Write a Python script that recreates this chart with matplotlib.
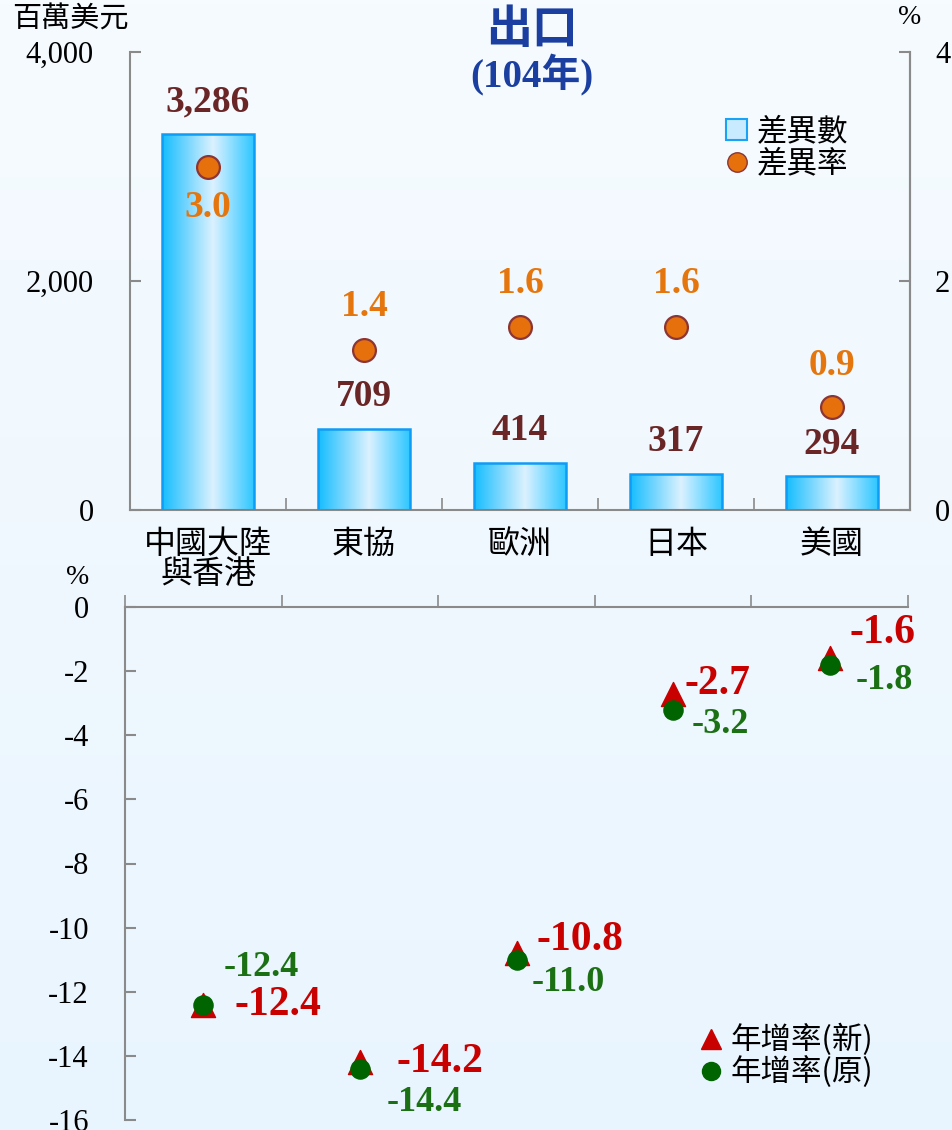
import matplotlib
matplotlib.use("Agg")
import matplotlib.pyplot as plt
import numpy as np
from matplotlib.colors import LinearSegmentedColormap
from matplotlib.lines import Line2D
from matplotlib.patches import Patch

# ---------------- data ----------------
categories = ["中國大陸\n與香港", "東協", "歐洲", "日本", "美國"]
diff_amount = [3286, 709, 414, 317, 294]          # 百萬美元
diff_rate = [3.0, 1.4, 1.6, 1.6, 0.9]             # %
growth_new = [-12.4, -14.2, -10.8, -2.7, -1.6]    # %
growth_orig = [-12.4, -14.4, -11.0, -3.2, -1.8]   # %
left_ticks = [0, 2000, 4000]
left_ticklabels = ["0", "2,000", "4,000"]
right_ticks = [0, 2, 4]
bottom_ticks = [0, -2, -4, -6, -8, -10, -12, -14, -16]

# label offsets (pixels), styling only
rate_dy = [-41, 43, 43, 43, 41]
new_off = [(75, 0), (80, 0), (63, 13), (44, 10), (53, 25)]
orig_off = [(58, 37), (64, -34), (52, -23), (47, -15), (55, -16)]

SERIF = ["Liberation Serif", "DejaVu Serif"]
CJK = ["Noto Sans CJK TC", "DejaVu Sans"]
MIX = ["Liberation Serif", "Noto Sans CJK TC", "DejaVu Sans"]

W, H = 953, 1130
fig = plt.figure(figsize=(W / 100, H / 100), dpi=100)

# background gradient
bg = fig.add_axes([0, 0, 1, 1], zorder=-10)
grad = np.linspace(0, 1, 256).reshape(-1, 1)
bg_cmap = LinearSegmentedColormap.from_list("bg", ["#f6fbff", "#e9f5fe"])
bg.imshow(grad, aspect="auto", cmap=bg_cmap, extent=[0, 1, 0, 1], origin="upper")
bg.axis("off")

spine_c = "#8a8a8a"
x = np.arange(len(categories))

# ---------------- top panel ----------------
ax = fig.add_axes([130 / W, 1 - 510 / H, 780 / W, 458 / H])
ax.set_facecolor("none")
bars = ax.bar(x, diff_amount, width=0.59, facecolor="none", edgecolor="#0f9cf5",
              linewidth=1.8, zorder=3)
bar_cmap = LinearSegmentedColormap.from_list(
    "bar", [(0, "#15bdff"), (0.55, "#dcf1ff"), (1, "#2ac6ff")])
hgrad = np.linspace(0, 1, 256).reshape(1, -1)
for b in bars:
    x0, y0 = b.get_x(), b.get_y()
    im = ax.imshow(hgrad, aspect="auto", cmap=bar_cmap,
                   extent=[x0, x0 + b.get_width(), y0, y0 + b.get_height()],
                   zorder=2)
    im.set_clip_path(b)
ax.set_xlim(-0.5, len(categories) - 0.5)
ax.set_ylim(0, 4000)
ax.set_yticks(left_ticks)
ax.set_yticklabels(left_ticklabels, fontfamily=SERIF, fontsize=22)
ax.set_xticks(x)
ax.set_xticklabels(categories, fontfamily=CJK, fontsize=23, linespacing=0.9)
ax.set_xticks(np.arange(0.5, len(categories) - 0.5, 1), minor=True)
ax.tick_params(axis="x", which="major", length=0, pad=13)
ax.tick_params(axis="x", which="minor", direction="in", length=9, color=spine_c, width=1.2)
ax.tick_params(axis="y", direction="in", length=8, color=spine_c, width=1.5, pad=26)
for s in ["left", "bottom", "right"]:
    ax.spines[s].set_color(spine_c)
    ax.spines[s].set_linewidth(1.5)
ax.spines["top"].set_visible(False)

for xi, v in zip(x, diff_amount):
    ax.annotate(f"{v:,}", (xi, v), xytext=(0, 32), textcoords="offset pixels",
                ha="center", va="center", fontsize=27, fontweight="bold",
                fontfamily=SERIF, color="#6a2626", zorder=6)

ax2 = ax.twinx()
ax2.set_ylim(0, 4)
ax2.set_yticks(right_ticks)
ax2.set_yticklabels([str(t) for t in right_ticks], fontfamily=SERIF, fontsize=22)
ax2.tick_params(axis="y", direction="in", length=8, color=spine_c, width=1.5, pad=18)
for s in ["top", "left", "bottom"]:
    ax2.spines[s].set_visible(False)
ax2.spines["right"].set_color(spine_c)
ax2.spines["right"].set_linewidth(1.5)
ax2.scatter(x, diff_rate, s=270, facecolor="#e5700c", edgecolor="#8c3535",
            linewidth=1.6, zorder=5)
for xi, v, dy in zip(x, diff_rate, rate_dy):
    ax2.annotate(f"{v:.1f}", (xi, v), xytext=(0, dy), textcoords="offset pixels",
                 ha="center", va="center", fontsize=27, fontweight="bold",
                 fontfamily=SERIF, color="#e5760e", zorder=6)

leg1 = ax2.legend(
    handles=[Patch(facecolor="#c9ebff", edgecolor="#1aa2f5", linewidth=1.5, label="差異數"),
             Line2D([], [], marker="o", linestyle="none", markersize=14,
                    markerfacecolor="#e5700c", markeredgecolor="#8c3535", label="差異率")],
    loc="upper left", bbox_to_anchor=(726 / W, 1 - 116 / H),
    bbox_transform=fig.transFigure, frameon=False,
    prop={"family": CJK, "size": 22}, handlelength=0.7, handleheight=0.7,
    handletextpad=0.3, labelspacing=0.05, borderpad=0, borderaxespad=0)

# ---------------- bottom panel ----------------
bx = fig.add_axes([125 / W, 1 - 1120 / H, 783 / W, 513 / H])
bx.set_facecolor("none")
bx.set_xlim(-0.5, len(categories) - 0.5)
bx.set_ylim(-16, 0)
bx.set_yticks(bottom_ticks)
bx.set_yticklabels([str(t) for t in bottom_ticks], fontfamily=SERIF, fontsize=22)
bx.tick_params(axis="y", direction="in", length=8, color=spine_c, width=1.5, pad=26)
bx.xaxis.set_ticks_position("top")
bx.set_xticks(np.arange(-0.5, len(categories), 1))
bx.set_xticklabels([])
bx.tick_params(axis="x", direction="out", length=9, color=spine_c, width=1.2)
for s in ["left", "top"]:
    bx.spines[s].set_color(spine_c)
    bx.spines[s].set_linewidth(1.5)
for s in ["right", "bottom"]:
    bx.spines[s].set_visible(False)

bx.scatter(x, growth_new, marker="^", s=300, color="#c80000", zorder=4, clip_on=False)
bx.scatter(x, growth_orig, marker="o", s=190, color="#006400", zorder=5, clip_on=False)
for xi, v, (dx, dy) in zip(x, growth_new, new_off):
    bx.annotate(f"{v:.1f}", (xi, v), xytext=(dx, dy), textcoords="offset pixels",
                ha="center", va="center", fontsize=30, fontweight="bold",
                fontfamily=SERIF, color="#c80000", zorder=6)
for xi, v, (dx, dy) in zip(x, growth_orig, orig_off):
    bx.annotate(f"{v:.1f}", (xi, v), xytext=(dx, dy), textcoords="offset pixels",
                ha="center", va="center", fontsize=26, fontweight="bold",
                fontfamily=SERIF, color="#1a7012", zorder=6)

leg2 = bx.legend(
    handles=[Line2D([], [], marker="^", linestyle="none", markersize=15,
                    color="#c80000", label="年增率(新)"),
             Line2D([], [], marker="o", linestyle="none", markersize=13,
                    color="#006400", label="年增率(原)")],
    loc="upper left", bbox_to_anchor=(700 / W, 1 - 1024 / H),
    bbox_transform=fig.transFigure, frameon=False,
    prop={"family": CJK, "size": 22}, handlelength=0.7,
    handletextpad=0.3, labelspacing=0.0, borderpad=0, borderaxespad=0)

# ---------------- texts ----------------
fig.text(532 / W, 1 - 30 / H, "出口", ha="center", va="center", fontsize=33,
         fontweight="bold", fontfamily=CJK, color="#1a3fa0")
fig.text(532 / W, 1 - 75 / H, "(104年)", ha="center", va="center", fontsize=28,
         fontweight="bold", fontfamily=MIX, color="#1a3fa0")
fig.text(70 / W, 1 - 20 / H, "百萬美元", ha="center", va="center", fontsize=21,
         fontfamily=CJK, color="black")
fig.text(910 / W, 1 - 18 / H, "%", ha="center", va="center", fontsize=20,
         fontfamily=SERIF, color="black")
fig.text(78 / W, 1 - 578 / H, "%", ha="center", va="center", fontsize=20,
         fontfamily=SERIF, color="black")

fig.savefig("out.png", dpi=100)
